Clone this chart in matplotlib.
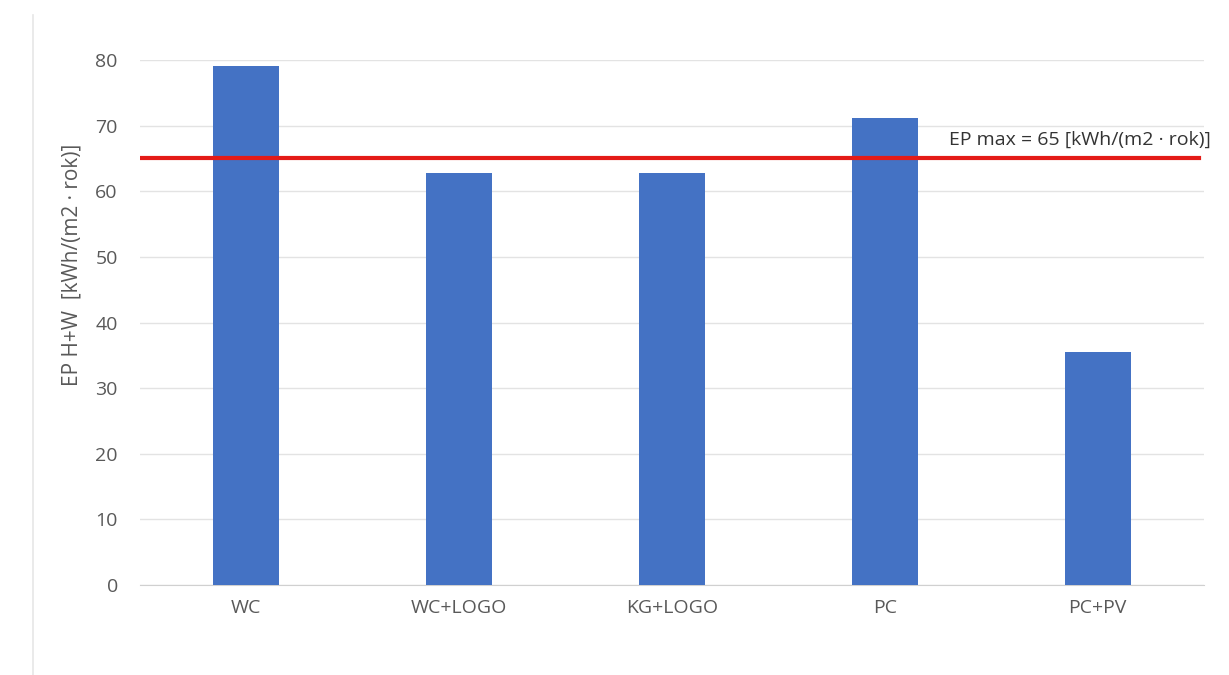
import matplotlib.pyplot as plt
from matplotlib.lines import Line2D

# data
categories = ["WC", "WC+LOGO", "KG+LOGO", "PC", "PC+PV"]
values = [79.1, 62.8, 62.8, 71.2, 35.5]
ep_max = 65
y_ticks = [0, 10, 20, 30, 40, 50, 60, 70, 80]

BAR_COLOUR = "#4472C4"
LINE_COLOUR = "#E41B17"
TEXT_COLOUR = "#595959"
GRID_COLOUR = "#E3E3E3"

plt.rcParams['font.family'] = ['Open Sans', 'DejaVu Sans']

fig = plt.figure(figsize=(12.29, 6.75), dpi=100)
W, H = 1229, 675
# axes in pixel terms: x 140..1204, y 60..585
ax = fig.add_axes([140 / W, 1 - 585 / H, (1204 - 140) / W, (585 - 60) / H])

x = range(len(categories))
ax.bar(x, values, width=0.31, color=BAR_COLOUR, zorder=3)
ax.axhline(ep_max, xmin=0, xmax=0.995, color=LINE_COLOUR, linewidth=3, zorder=4)

ax.set_xlim(-0.5, len(categories) - 0.5)
ax.set_ylim(0, 80)
ax.set_yticks(y_ticks)
ax.set_xticks(list(x))
ax.set_xticklabels(categories)
ax.tick_params(axis='both', length=0, labelsize=14, colors=TEXT_COLOUR)
ax.tick_params(axis='x', pad=10)
ax.tick_params(axis='y', pad=16)
ax.grid(axis='y', color=GRID_COLOUR, linewidth=1, zorder=0)
for side in ("top", "right", "left"):
    ax.spines[side].set_visible(False)
ax.spines["bottom"].set_color("#D0D0D0")

# y label sits above the axes centre in the reference
fig.text(72 / W, 1 - 265 / H, "EP H+W  [kWh/(m2 \u00b7 rok)]", rotation=90,
         fontsize=15, color=TEXT_COLOUR, ha='center', va='center')

ax.text(3.3, ep_max + 1.4, "EP max = 65 [kWh/(m2 \u00b7 rok)]", fontsize=14,
        color="#333333", ha='left', va='bottom', clip_on=False)

# thin frame line on the left edge of the picture
fig.add_artist(Line2D([33 / W, 33 / W], [0, 1 - 15 / H], color="#E6E6E6", linewidth=1.2))

fig.savefig("out.png", dpi=100)
